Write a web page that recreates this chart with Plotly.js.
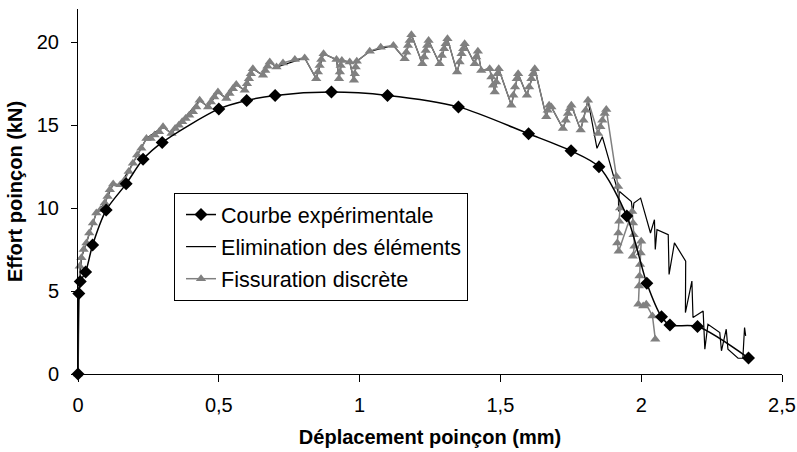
<!DOCTYPE html>
<html>
<head>
<meta charset="utf-8">
<script src="https://cdn.plot.ly/plotly-3.0.1.min.js"></script>
<style>html,body{margin:0;padding:0;background:#fff;}#chart{width:797px;height:452px;}</style>
</head>
<body>
<div id="chart"></div>
<script>
// Courbe expérimentale
const expX = [0, 0.003, 0.008, 0.027, 0.052, 0.1, 0.171, 0.231, 0.299, 0.5, 0.599, 0.7, 0.9, 1.099, 1.351, 1.6, 1.751, 1.85, 1.949, 2.02, 2.072, 2.102, 2.2, 2.381];
const expY = [0, 4.85, 5.57, 6.15, 7.78, 9.88, 11.46, 12.94, 13.96, 15.98, 16.49, 16.79, 16.99, 16.79, 16.1, 14.48, 13.45, 12.49, 9.52, 5.47, 3.45, 2.95, 2.86, 0.96];

// Elimination des éléments
const elimX = [0, 0.003, 0.012, 0.04, 0.065, 0.095, 0.125, 0.15, 0.195, 0.243, 0.302, 0.332, 0.432, 0.462, 0.497, 0.527, 0.562, 0.592, 0.621, 0.657, 0.681, 0.705, 0.805, 0.846, 0.872, 0.918, 0.927, 0.937, 0.965, 0.98, 0.99, 1.036, 1.12, 1.16, 1.184, 1.223, 1.245, 1.284, 1.312, 1.346, 1.373, 1.409, 1.42, 1.432, 1.462, 1.48, 1.494, 1.539, 1.563, 1.594, 1.622, 1.663, 1.673, 1.681, 1.722, 1.752, 1.785, 1.811, 1.843, 1.862, 1.912, 1.919, 1.92, 1.923, 1.965, 1.97, 1.974, 1.998, 2.033, 2.047, 2.05, 2.056, 2.096, 2.099, 2.118, 2.158, 2.157, 2.18, 2.184, 2.22, 2.226, 2.237, 2.279, 2.285, 2.302, 2.308, 2.344, 2.361, 2.367, 2.371];
const elimY = [0, 4.9, 7.0, 8.5, 9.7, 10.3, 11.45, 11.4, 12.7, 14.2, 14.9, 14.5, 16.5, 16.1, 17.0, 16.6, 17.45, 17.1, 18.4, 18.0, 18.8, 18.5, 19.05, 17.8, 19.3, 18.95, 17.8, 18.9, 18.8, 17.7, 18.85, 19.45, 19.8, 19.0, 20.45, 18.7, 20.1, 18.7, 20.2, 18.2, 19.9, 18.7, 19.45, 18.3, 18.4, 17.0, 18.4, 16.2, 18.1, 16.8, 18.4, 15.5, 16.2, 16.1, 14.8, 16.2, 14.7, 16.5, 13.6, 14.3, 11.4, 10.9, 9.8, 11.0, 10.4, 9.7, 10.3, 10.6, 8.5, 9.3, 7.5, 8.7, 8.4, 6.0, 7.9, 6.8, 3.7, 5.6, 3.4, 3.8, 1.5, 3.0, 2.5, 1.4, 2.7, 1.5, 0.95, 0.95, 2.8, 2.3];

// Fissuration discrète
const fisX = [0, 0.003, 0.006, 0.012, 0.02, 0.03, 0.04, 0.053, 0.065, 0.08, 0.095, 0.105, 0.113, 0.125, 0.15, 0.166, 0.18, 0.195, 0.21, 0.225, 0.243, 0.258, 0.272, 0.288, 0.302, 0.332, 0.345, 0.358, 0.37, 0.382, 0.395, 0.408, 0.42, 0.432, 0.462, 0.472, 0.484, 0.497, 0.527, 0.538, 0.55, 0.562, 0.592, 0.6, 0.607, 0.614, 0.621, 0.657, 0.665, 0.673, 0.681, 0.705, 0.728, 0.77, 0.805, 0.846, 0.852, 0.858, 0.864, 0.872, 0.918, 0.927, 0.93, 0.933, 0.937, 0.965, 0.98, 0.983, 0.986, 0.99, 1.036, 1.075, 1.12, 1.16, 1.166, 1.172, 1.178, 1.184, 1.223, 1.229, 1.235, 1.24, 1.245, 1.284, 1.292, 1.3, 1.306, 1.312, 1.346, 1.355, 1.362, 1.368, 1.373, 1.409, 1.414, 1.42, 1.432, 1.462, 1.468, 1.474, 1.48, 1.485, 1.49, 1.494, 1.539, 1.546, 1.552, 1.558, 1.563, 1.594, 1.602, 1.61, 1.616, 1.622, 1.663, 1.668, 1.673, 1.681, 1.722, 1.732, 1.74, 1.747, 1.752, 1.785, 1.795, 1.803, 1.811, 1.847, 1.855, 1.862, 1.87, 1.876, 1.912, 1.918, 1.925, 1.922, 1.919, 1.915, 1.92, 1.968, 1.971, 1.973, 1.976, 1.97, 2.0, 1.998, 1.996, 1.994, 1.992, 1.99, 2.007, 2.018, 2.04, 2.05];
const fisY = [0, 4.9, 6.5, 7.0, 7.5, 7.9, 8.5, 9.1, 9.7, 9.9, 10.3, 10.7, 11.1, 11.45, 11.4, 11.7, 12.2, 12.7, 13.2, 13.6, 14.2, 14.2, 14.4, 14.6, 14.9, 14.5, 14.8, 15.0, 15.2, 15.4, 15.6, 15.8, 16.1, 16.5, 16.1, 16.4, 16.7, 17.0, 16.6, 16.9, 17.2, 17.45, 17.1, 17.5, 17.8, 18.1, 18.4, 18.0, 18.3, 18.55, 18.8, 18.5, 18.75, 18.95, 19.05, 17.8, 18.2, 18.6, 18.95, 19.3, 18.95, 17.8, 18.2, 18.6, 18.9, 18.8, 17.7, 18.1, 18.5, 18.85, 19.45, 19.7, 19.8, 19.0, 19.4, 19.8, 20.1, 20.45, 18.7, 19.1, 19.5, 19.8, 20.1, 18.7, 19.2, 19.6, 19.9, 20.2, 18.2, 18.8, 19.3, 19.6, 19.9, 18.7, 19.1, 19.45, 18.3, 18.4, 17.9, 17.4, 17.0, 17.6, 18.1, 18.4, 16.2, 16.8, 17.3, 17.8, 18.1, 16.8, 17.3, 17.8, 18.1, 18.4, 15.5, 15.9, 16.2, 16.1, 14.8, 15.3, 15.7, 16.0, 16.2, 14.7, 15.3, 15.9, 16.5, 14.5, 14.9, 15.3, 15.7, 15.95, 11.9, 11.3, 10.0, 9.2, 8.5, 7.9, 7.4, 9.8, 9.1, 8.4, 7.7, 7.1, 8.0, 7.3, 6.6, 5.9, 5.3, 4.2, 4.1, 4.2, 3.5, 2.1];

const xTicks = [0, 0.5, 1, 1.5, 2, 2.5];
const xTickText = ['0', '0,5', '1', '1,5', '2', '2,5'];
const yTicks = [0, 5, 10, 15, 20];

const traces = [
  {x: elimX, y: elimY, name: 'Elimination des éléments', type: 'scatter', mode: 'lines',
   line: {color: '#000000', width: 1.2}, legendrank: 2, legendgroup: 'b', cliponaxis: false},
  {x: fisX, y: fisY, name: 'Fissuration discrète', type: 'scatter', mode: 'lines+markers',
   line: {color: '#808080', width: 1.5}, marker: {symbol: 'triangle-up', size: 9, color: '#808080'},
   legendrank: 3, legendgroup: 'c', cliponaxis: false},
  {x: expX, y: expY, name: 'Courbe expérimentale', type: 'scatter', mode: 'lines+markers',
   line: {color: '#000000', width: 1.5, shape: 'spline', smoothing: 0.8},
   marker: {symbol: 'diamond', size: 10, color: '#000000'}, legendrank: 1, legendgroup: 'a', cliponaxis: false}
];

const layout = {
  width: 797, height: 452,
  margin: {l: 78, r: 15, t: 9, b: 78},
  paper_bgcolor: '#ffffff', plot_bgcolor: '#ffffff',
  font: {family: 'Liberation Sans, Arial, sans-serif', color: '#000000'},
  xaxis: {
    range: [0, 2.5], tickvals: xTicks, ticktext: xTickText,
    showgrid: false, zeroline: false, showline: true, linecolor: '#000', linewidth: 1,
    ticks: 'outside', ticklen: 7, tickcolor: '#000', tickfont: {size: 20},
    ticklabelstandoff: 6,
    title: {text: 'Déplacement poinçon (mm)', font: {size: 20, family: 'Liberation Sans, Arial, sans-serif', weight: 'bold'}, standoff: 14},
    automargin: false
  },
  yaxis: {
    range: [0, 22], tickvals: yTicks,
    showgrid: false, zeroline: false, showline: true, linecolor: '#000', linewidth: 1,
    ticks: 'outside', ticklen: 6, tickcolor: '#000', tickfont: {size: 20},
    ticklabelstandoff: 8,
    title: {text: 'Effort poinçon (kN)', font: {size: 20, family: 'Liberation Sans, Arial, sans-serif', weight: 'bold'}, standoff: 8},
    automargin: false
  },
  showlegend: true,
  legend: {
    x: 0.1364, y: 0.4959, xanchor: 'left', yanchor: 'top',
    bgcolor: '#ffffff', bordercolor: '#000000', borderwidth: 1,
    font: {size: 21.6, family: 'Liberation Sans, Arial, sans-serif'},
    traceorder: 'grouped', tracegroupgap: 1, indentation: 6
  }
};

Plotly.newPlot('chart', traces, layout, {displayModeBar: false, staticPlot: true});
</script>
</body>
</html>
